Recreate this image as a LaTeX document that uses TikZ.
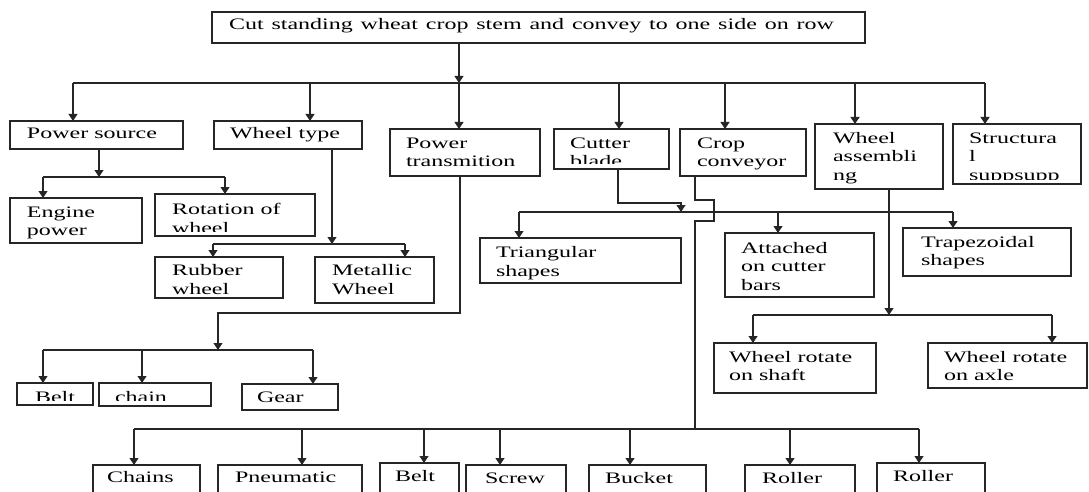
\documentclass[tikz,border=0pt]{standalone}
\usepackage{fontspec}
\newfontfamily\wf[FakeStretch=1.5]{Liberation Serif}
\usetikzlibrary{arrows.meta}
\tikzset{
  ln/.style={line width=1.2pt, draw=black!85},
  arr/.style={ln, -{Triangle[width=9pt,length=7pt]}},
  bx/.style={draw=black!85, line width=1.4pt, inner sep=0pt, outer sep=0pt, rectangle},
  txt/.style={font=\wf\fontsize{16}{18.5}\selectfont, align=left, inner sep=0pt, text=black,
    draw=none, minimum width=0pt, minimum height=0pt},
}
% name, x1, y1, x2, y2, text x, first baseline, text, bottom inset of the text area
\newcommand\mybox[9]{%
  \node[bx, minimum width={#4-#2}, minimum height={#5-#3},
    path picture={%
      \clip ([yshift={#9*1pt}]path picture bounding box.south west) rectangle (path picture bounding box.north east);
      \node[txt, anchor=north west] at ([xshift={(#6-#2)*1pt},yshift={(#3-#7+12.95)*1pt}]path picture bounding box.north west) {\strut #8};%
    }] (#1) at ({(#2+#4)/2},{(#3+#5)/2}) {};}
\newcommand\drop[2]{\draw[arr] (#1) -- (#1 |- #2.north);}
\begin{document}
\begin{tikzpicture}[x=1pt, y=-1pt]
\useasboundingbox (0,0) rectangle (1089,492);
\clip (0,0) rectangle (1089,492);
\fill[white] (0,0) rectangle (1089,492);

% boxes
\mybox{top}{212}{12}{865}{43}{229}{30}{\spaceskip=7.85pt Cut standing wheat crop stem and convey to one side on row}{4}
\mybox{ps}{10}{121}{183}{149}{27}{139}{Power source}{4}
\mybox{wt}{214}{121}{362}{149}{230}{139}{Wheel type}{4}
\mybox{pt}{390}{129}{540}{176}{406}{148}{Power\\transmition}{4}
\mybox{cb}{554}{129}{669}{169}{570}{148}{Cutter\\blade}{6}
\mybox{cc}{680}{129}{806}{176}{697}{148}{Crop\\conveyor}{4}
\mybox{wa}{815}{124}{943}{189}{833}{143.3}{Wheel\\assembli\\ng}{4}
\mybox{st}{953}{124}{1081}{184}{969}{143.3}{Structura\\l\\suppsupp}{4.5}
\mybox{eng}{10}{198}{142}{243}{27}{217.3}{Engine\\power}{3}
\mybox{rot}{155}{194}{315}{236}{172}{214.6}{Rotation of\\wheel}{5}
\mybox{rw}{155}{257}{283}{298}{172}{275.6}{Rubber\\wheel}{3}
\mybox{mw}{315}{257}{434}{303}{332}{275.6}{Metallic\\Wheel}{3}
\mybox{tri}{480}{238}{681}{283}{496}{257.5}{Triangular\\shapes}{3}
\mybox{att}{725}{233}{874}{297}{741}{253.3}{Attached\\on cutter\\bars}{3}
\mybox{trap}{903}{228}{1071}{276}{921}{247}{Trapezoidal\\shapes}{3}
\mybox{beltA}{17}{383}{93}{405}{35}{402.3}{Belt}{5}
\mybox{chain}{99}{383}{211}{406}{115}{402.6}{chain}{6}
\mybox{gear}{242}{384}{338}{410}{257}{402.3}{Gear}{3}
\mybox{shaft}{714}{343}{876}{393}{729}{362.3}{Wheel rotate\\on shaft}{3}
\mybox{axle}{928}{343}{1087}{388}{944}{362.3}{Wheel rotate\\on axle}{3}
\mybox{chains}{93}{465}{200}{500}{107}{482.3}{Chains}{3}
\mybox{pneu}{218}{465}{362}{500}{235}{482.3}{Pneumatic}{3}
\mybox{beltB}{380}{463}{459}{500}{395}{481.3}{Belt}{3}
\mybox{screw}{466}{465}{566}{500}{485}{483}{Screw}{3}
\mybox{bucket}{589}{465}{706}{500}{605}{483}{Bucket}{3}
\mybox{rollA}{745}{465}{855}{500}{762}{483}{Roller}{3}
\mybox{rollB}{877}{463}{985}{500}{893}{481.3}{Roller}{3}

% main bus
\coordinate (m0) at (459,83);
\coordinate (m1) at (73,83);
\coordinate (m2) at (310,83);
\coordinate (m3) at (619,83);
\coordinate (m4) at (725,83);
\coordinate (m5) at (855,83);
\coordinate (m6) at (985,83);
\draw[arr] (top.south -| m0) -- (m0);
\draw[ln] (m1) -- (m6);
\drop{m1}{ps} \drop{m2}{wt} \drop{m0}{pt} \drop{m3}{cb} \drop{m4}{cc} \drop{m5}{wa} \drop{m6}{st}

% power source
\coordinate (a0) at (99,177);
\coordinate (a1) at (43,177);
\coordinate (a2) at (225,177);
\draw[arr] (ps.south -| a0) -- (a0);
\draw[ln] (a1) -- (a2);
\drop{a1}{eng} \drop{a2}{rot}

% wheel type
\coordinate (w0) at (332,244);
\coordinate (w1) at (213,244);
\coordinate (w2) at (405,244);
\draw[arr] (wt.south -| w0) -- (w0);
\draw[ln] (w1) -- (w2);
\drop{w1}{rw} \drop{w2}{mw}

% power transmition
\coordinate (tk) at (460,313);
\coordinate (t0) at (218,350);
\coordinate (t1) at (43,350);
\coordinate (t2) at (142,350);
\coordinate (t3) at (313,350);
\draw[arr] (pt.south -| tk) -- (tk) -- (tk -| t0) -- (t0);
\draw[ln] (t1) -- (t3);
\drop{t1}{beltA} \drop{t2}{chain} \drop{t3}{gear}

% cutter blade
\coordinate (ck) at (618,203);
\coordinate (c0) at (681,212);
\coordinate (c1) at (519,212);
\coordinate (c2) at (778,212);
\coordinate (c3) at (953,212);
\draw[arr] (cb.south -| ck) -- (ck) -- (ck -| c0) -- (c0);
\draw[ln] (c1) -- (c3);
\drop{c1}{tri} \drop{c2}{att} \drop{c3}{trap}

% crop conveyor
\coordinate (k1) at (695,200);
\coordinate (k2) at (714,221);
\coordinate (k0) at (695,429);
\draw[ln] (cc.south -| k1) -- (k1) -- (k1 -| k2) -- (k2) -- (k2 -| k1) -- (k0);
\coordinate (q1) at (134,429);
\coordinate (q2) at (302,429);
\coordinate (q3) at (424,429);
\coordinate (q4) at (500,429);
\coordinate (q5) at (630,429);
\coordinate (q6) at (790,429);
\coordinate (q7) at (919,429);
\draw[ln] (q1) -- (q7);
\drop{q1}{chains} \drop{q2}{pneu} \drop{q3}{beltB} \drop{q4}{screw} \drop{q5}{bucket} \drop{q6}{rollA} \drop{q7}{rollB}

% wheel assembling
\coordinate (h0) at (889,315);
\coordinate (h1) at (753,315);
\coordinate (h2) at (1052,315);
\draw[arr] (wa.south -| h0) -- (h0);
\draw[ln] (h1) -- (h2);
\drop{h1}{shaft} \drop{h2}{axle}
\end{tikzpicture}
\end{document}
